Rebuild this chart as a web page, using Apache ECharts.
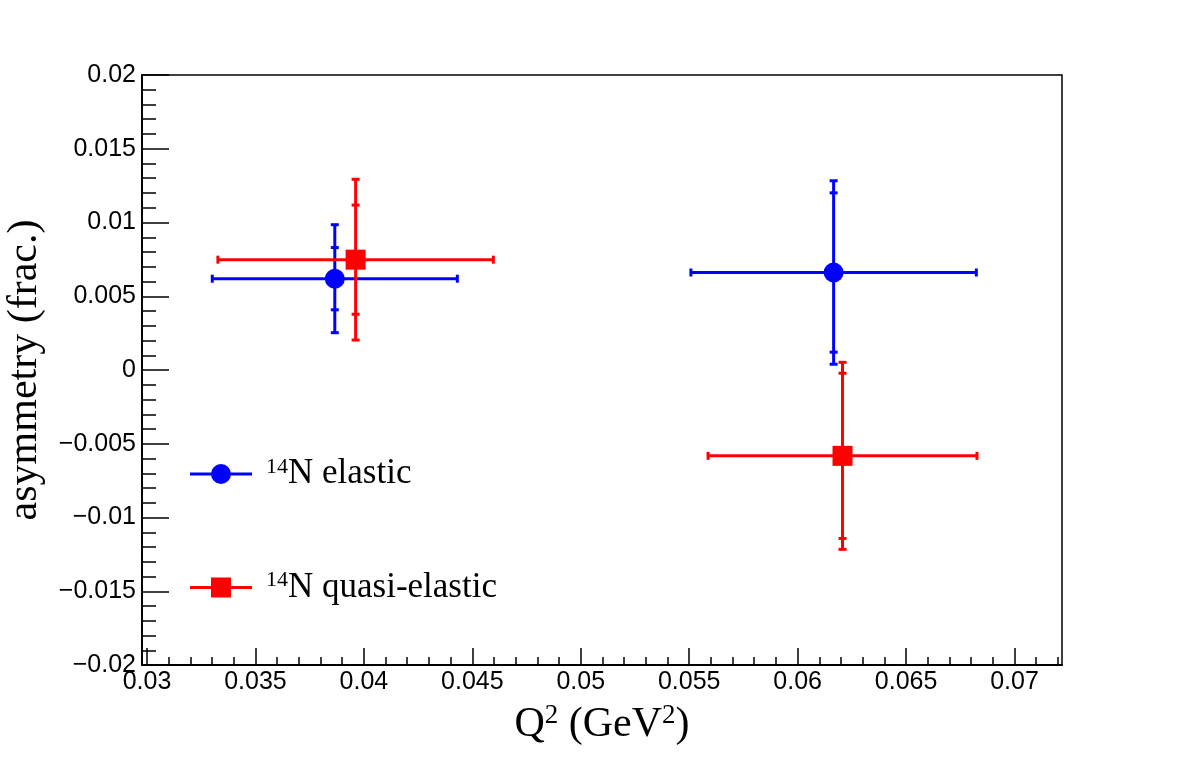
<!DOCTYPE html>
<html>
<head>
<meta charset="utf-8">
<script src="https://cdn.jsdelivr.net/npm/echarts@6/dist/echarts.min.js"></script>
<style>
  html, body { margin: 0; padding: 0; background: #fff; }
  #chart { width: 1182px; height: 757px; }
</style>
</head>
<body>
<div id="chart"></div>
<script>
// data
var seriesNames = ['elastic', 'quasi-elastic'];
var elasticQ2 = [0.03866, 0.06166];
var elasticQ2Err = [0.00565, 0.00658];
var elasticAsym = [0.00619, 0.00661];
var elasticStat = [0.00211, 0.0054];
var elasticTotal = [0.00366, 0.00622];

var quasiQ2 = [0.03962, 0.06207];
var quasiQ2Err = [0.00635, 0.0062];
var quasiAsym = [0.00748, -0.00582];
var quasiStat = [0.0037, 0.0056];
var quasiTotal = [0.00545, 0.00634];

// axes
var xMin = 0.02977, xMax = 0.07219;
var xMajor = [0.03, 0.035, 0.04, 0.045, 0.05, 0.055, 0.06, 0.065, 0.07];
var xMajorLabels = ['0.03', '0.035', '0.04', '0.045', '0.05', '0.055', '0.06', '0.065', '0.07'];
var xMinor = [0.030, 0.031, 0.032, 0.033, 0.034, 0.035, 0.036, 0.037, 0.038, 0.039,
              0.040, 0.041, 0.042, 0.043, 0.044, 0.045, 0.046, 0.047, 0.048, 0.049,
              0.050, 0.051, 0.052, 0.053, 0.054, 0.055, 0.056, 0.057, 0.058, 0.059,
              0.060, 0.061, 0.062, 0.063, 0.064, 0.065, 0.066, 0.067, 0.068, 0.069,
              0.070, 0.071, 0.072];
var yMin = -0.02, yMax = 0.02, yStep = 0.005;
var yTickLabels = ['\u22120.02', '\u22120.015', '\u22120.01', '\u22120.005', '0',
                   '0.005', '0.01', '0.015', '0.02'];

var BLUE = '#0000ff', RED = '#ff0000';

function pack(q, qe, a, st, tot) {
    var out = [];
    for (var i = 0; i < q.length; i++) out.push([q[i], a[i], qe[i], st[i], tot[i]]);
    return out;
}

function errBars(color) {
    return function (params, api) {
        var x = api.value(0), y = api.value(1), dx = api.value(2);
        var st = api.value(3), tot = api.value(4);
        var l = api.coord([x - dx, y]), r = api.coord([x + dx, y]);
        var t = api.coord([x, y + tot]), b = api.coord([x, y - tot]);
        var s1 = api.coord([x, y + st]), s2 = api.coord([x, y - st]);
        var style = { stroke: color, lineWidth: 3 };
        var cap = 4;
        function line(x1, y1, x2, y2) {
            return { type: 'line', shape: { x1: x1, y1: y1, x2: x2, y2: y2 }, style: style };
        }
        return {
            type: 'group',
            children: [
                line(l[0], l[1], r[0], r[1]),
                line(l[0], l[1] - cap, l[0], l[1] + cap),
                line(r[0], r[1] - cap, r[0], r[1] + cap),
                line(t[0], t[1], b[0], b[1]),
                line(t[0] - cap, t[1], t[0] + cap, t[1]),
                line(b[0] - cap, b[1], b[0] + cap, b[1]),
                line(s1[0] - cap, s1[1], s1[0] + cap, s1[1]),
                line(s2[0] - cap, s2[1], s2[0] + cap, s2[1])
            ]
        };
    };
}

var elasticPts = pack(elasticQ2, elasticQ2Err, elasticAsym, elasticStat, elasticTotal);
var quasiPts = pack(quasiQ2, quasiQ2Err, quasiAsym, quasiStat, quasiTotal);

var serif = 'Liberation Serif';
var sans = 'Liberation Sans';

var chart = echarts.init(document.getElementById('chart'));
var option = {
    animation: false,
    backgroundColor: '#fff',
    grid: {
        left: 142, top: 75, right: 120, bottom: 92,
        containLabel: false,
        outerBoundsMode: 'none',
        show: true, borderColor: '#000', borderWidth: 1.5
    },
    legend: {
        orient: 'vertical',
        left: 190, top: 456,
        padding: 0,
        itemWidth: 62, itemHeight: 20,
        itemGap: 78,
        selectedMode: false,
        data: [
            { name: 'elastic', icon: 'path://M0,8.5h62v3h-62z M21,10a10,10 0 1,1 20,0a10,10 0 1,1 -20,0z' },
            { name: 'quasi-elastic', icon: 'path://M0,8.5h62v3h-62z M21,0h20v20h-20z' }
        ],
        formatter: function (name) {
            return '{sup|14}{n|N ' + name + '}';
        },
        textStyle: {
            padding: [0, 0, 0, 9],
            rich: {
                sup: { fontFamily: serif, fontSize: 22, color: '#000', verticalAlign: 'top', lineHeight: 36 },
                n: { fontFamily: serif, fontSize: 35, color: '#000', lineHeight: 36 }
            }
        }
    },
    xAxis: [{
        type: 'value',
        min: xMin, max: xMax,
        position: 'bottom',
        name: '{t|Q}{s|2}{t| (GeV}{s|2}{t|)}',
        nameLocation: 'middle',
        nameGap: 60,
        nameTextStyle: {
            verticalAlign: 'middle',
            rich: {
                t: { fontFamily: serif, fontSize: 42, color: '#000', lineHeight: 46 },
                s: { fontFamily: serif, fontSize: 27, color: '#000', verticalAlign: 'top', lineHeight: 46 }
            }
        },
        axisLine: { show: true, onZero: false, lineStyle: { color: '#000', width: 2 } },
        axisTick: { show: true, inside: true, length: 17, customValues: xMajor, lineStyle: { color: '#000', width: 1.5 } },
        axisLabel: {
            show: true, customValues: xMajor, margin: 5,
            fontFamily: sans, fontSize: 25, color: '#000',
            formatter: function (v) {
                for (var i = 0; i < xMajor.length; i++) {
                    if (Math.abs(xMajor[i] - v) < 1e-7) return xMajorLabels[i];
                }
                return '';
            }
        },
        splitLine: { show: false }
    }, {
        type: 'value',
        min: xMin, max: xMax,
        position: 'bottom',
        axisLine: { show: false, onZero: false },
        axisTick: { show: true, inside: true, length: 8, customValues: xMinor, lineStyle: { color: '#000', width: 1.5 } },
        axisLabel: { show: false },
        splitLine: { show: false }
    }],
    yAxis: {
        type: 'value',
        min: yMin, max: yMax, interval: yStep,
        name: 'asymmetry (frac.)',
        nameLocation: 'middle',
        nameGap: 117,
        nameTextStyle: { fontFamily: serif, fontSize: 42, color: '#000', verticalAlign: 'middle' },
        axisLine: { show: true, onZero: false, lineStyle: { color: '#000', width: 2 } },
        axisTick: { show: true, inside: true, length: 27, lineStyle: { color: '#000', width: 1.5 } },
        minorTick: { show: true, splitNumber: 5, length: 14, lineStyle: { color: '#000', width: 1.5 } },
        axisLabel: {
            margin: 6, fontFamily: sans, fontSize: 25, color: '#000',
            formatter: function (v) {
                return yTickLabels[Math.round((v - yMin) / yStep)];
            }
        },
        splitLine: { show: false }
    },
    series: [{
        type: 'custom',
        name: 'elasticErr',
        xAxisIndex: 0,
        renderItem: errBars(BLUE),
        data: elasticPts,
        z: 2
    }, {
        type: 'custom',
        name: 'quasiErr',
        xAxisIndex: 0,
        renderItem: errBars(RED),
        data: quasiPts,
        z: 2
    }, {
        type: 'scatter',
        name: seriesNames[0],
        xAxisIndex: 0,
        symbol: 'circle',
        symbolSize: 20,
        itemStyle: { color: BLUE, opacity: 1 },
        data: elasticPts.map(function (p) { return [p[0], p[1]]; }),
        z: 3
    }, {
        type: 'scatter',
        name: seriesNames[1],
        xAxisIndex: 0,
        symbol: 'rect',
        symbolSize: 20,
        itemStyle: { color: RED, opacity: 1 },
        data: quasiPts.map(function (p) { return [p[0], p[1]]; }),
        z: 3
    }]
};
chart.setOption(option);
</script>
</body>
</html>
